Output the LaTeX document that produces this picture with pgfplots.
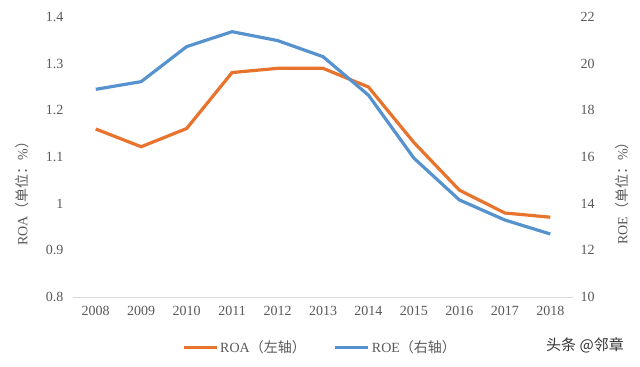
\documentclass[border=0pt]{standalone}
\usepackage{fontspec}
\setmainfont{Liberation Serif}
\newfontfamily\cjk{Noto Sans CJK SC}
\usepackage{pgfplots}
\pgfplotsset{compat=1.18}
\definecolor{roa}{HTML}{E8732C}
\definecolor{roe}{HTML}{5693CE}
\definecolor{txt}{HTML}{595959}
\definecolor{axl}{HTML}{D9D9D9}
\begin{document}
\begin{tikzpicture}
\path[use as bounding box] (0,0) rectangle (640bp,367bp);
\pgfplotsset{
  common/.style={
    at={(73bp,70bp)}, anchor=south west,
    width=500bp, height=280bp, scale only axis,
    xmin=-0.5, xmax=10.5,
    major tick length=0pt,
    tick label style={font=\fontsize{14bp}{16bp}\selectfont, text=txt},
    clip=false,
  }
}
\begin{axis}[common,
  ymin=0.8, ymax=1.4,
  ytick={0.8,0.9,1,1.1,1.2,1.3,1.4},
  yticklabels={0.8,0.9,1,1.1,1.2,1.3,1.4},
  xtick={0,...,10},
  xticklabels={2008,2009,2010,2011,2012,2013,2014,2015,2016,2017,2018},
  axis x line*=bottom, axis y line*=left,
  x axis line style={draw=axl, line width=0.8bp, -},
  y axis line style={draw=none},
  yticklabel style={xshift=-6bp},
  xticklabel style={yshift=-6bp},
]
\addplot[roa, line width=3.2bp] coordinates {
 (0,1.16) (1,1.122) (2,1.161) (3,1.281) (4,1.29) (5,1.29)
 (6,1.25) (7,1.131) (8,1.029) (9,0.98) (10,0.971)};
\end{axis}
\begin{axis}[common,
  ymin=10, ymax=22,
  ytick={10,12,14,16,18,20,22},
  yticklabels={10,12,14,16,18,20,22},
  axis x line=none, axis y line*=right,
  y axis line style={draw=none},
  yticklabel style={xshift=4bp},
  legend columns=2,
  legend style={at={(0.494,-0.179)}, anchor=center, draw=none, fill=none,
    font=\fontsize{14bp}{16bp}\selectfont, text=txt,
    /tikz/every even column/.append style={column sep=26bp},
    inner sep=0pt},
  legend image code/.code={\draw[#1] (0bp,0bp) -- (33bp,0bp);},
]
\addlegendimage{roa, line width=3.2bp}
\addlegendentry{ROA{\cjk （左轴）}}
\addplot[roe, line width=3.2bp] coordinates {
 (0,18.9) (1,19.23) (2,20.73) (3,21.37) (4,20.99) (5,20.3)
 (6,18.65) (7,15.95) (8,14.16) (9,13.3) (10,12.7)};
\addlegendentry{ROE{\cjk （右轴）}}
\end{axis}
\node[rotate=90, text=txt, font=\fontsize{14bp}{16bp}\selectfont] at (22bp,177bp) {ROA{\cjk （单位：}\%{\cjk ）}};
\node[rotate=90, text=txt, font=\fontsize{14bp}{16bp}\selectfont] at (622bp,177bp) {ROE{\cjk （单位：}\%{\cjk ）}};
\node[text=black!80, font=\fontsize{15bp}{17bp}\selectfont\cjk] at (585bp,22bp) {头条 @邻章};
\end{tikzpicture}
\end{document}
